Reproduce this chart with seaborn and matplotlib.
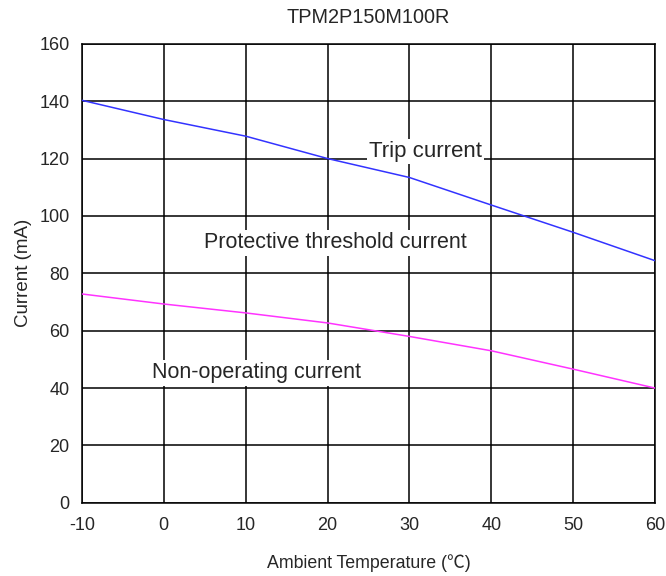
import matplotlib
matplotlib.use("Agg")
import matplotlib.pyplot as plt
import seaborn as sns
import pandas as pd

# values
temps = [-10, 0, 10, 20, 30, 40, 50, 60]
trip_current = [140.3, 133.6, 127.8, 120.0, 113.4, 103.8, 94.3, 84.4]
non_operating = [72.8, 69.3, 66.2, 62.7, 58.0, 53.0, 46.6, 40.0]
x_ticks = [-10, 0, 10, 20, 30, 40, 50, 60]
y_ticks = [0, 20, 40, 60, 80, 100, 120, 140, 160]

df = pd.DataFrame({
    "temp": temps * 2,
    "current": trip_current + non_operating,
    "series": ["Trip"] * len(temps) + ["Non-operating"] * len(temps),
})

sns.set_style("white")
plt.rcParams["font.family"] = ["Liberation Sans", "Noto Sans CJK SC", "DejaVu Sans"]
plt.rcParams["axes.unicode_minus"] = False

fig = plt.figure(figsize=(6.66, 5.76), dpi=100)
ax = fig.add_axes([0.123, 0.127, 0.8605, 0.797])

sns.lineplot(data=df, x="temp", y="current", hue="series",
             palette={"Trip": "#3333ff", "Non-operating": "#ff33ff"},
             linewidth=1.1, legend=False, ax=ax, zorder=3)

ax.set_xlim(-10, 60)
ax.set_ylim(0, 160)
ax.set_xticks(x_ticks)
ax.set_yticks(y_ticks)
ax.grid(True, color="black", linewidth=1.1)
ax.set_axisbelow(True)
for s in ax.spines.values():
    s.set_color("black")
    s.set_linewidth(1.1)
ax.tick_params(length=0, labelsize=13)
ax.tick_params(axis="x", pad=10)
ax.tick_params(axis="y", pad=9)

ax.set_xlabel("Ambient Temperature (℃)", fontsize=12.8, labelpad=15)
ax.set_ylabel("Current (mA)", fontsize=13.5, labelpad=5)
ax.set_title("TPM2P150M100R", fontsize=14.3, pad=15)

box = dict(facecolor="white", edgecolor="none", pad=1.5)
ax.text(32, 122.3, "Trip current", fontsize=16, ha="center", va="center", bbox=box, zorder=4)
ax.text(21, 90.6, "Protective threshold current", fontsize=15.5, ha="center", va="center", bbox=box, zorder=4)
ax.text(11.3, 45.3, "Non-operating current", fontsize=15.5, ha="center", va="center", bbox=box, zorder=4)

fig.savefig("out.png", dpi=100)
